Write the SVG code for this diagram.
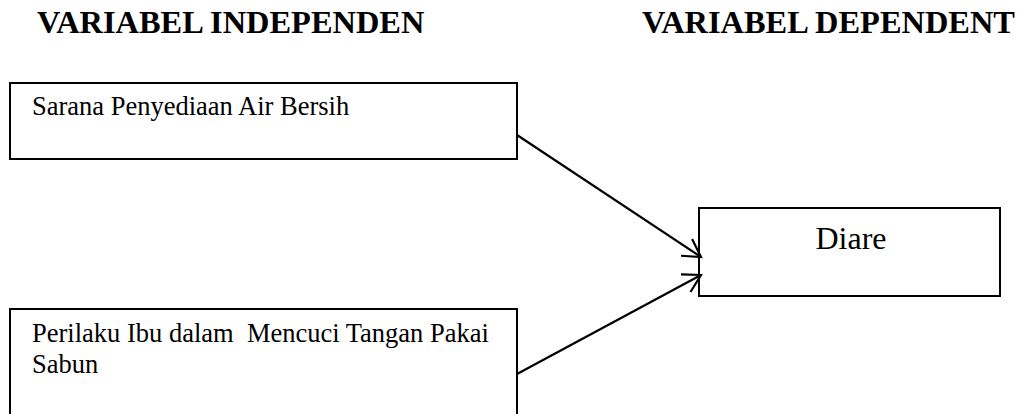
<svg xmlns="http://www.w3.org/2000/svg" width="1022" height="414" viewBox="0 0 1022 414">
<style>
.box{fill:#fff;stroke:#000;stroke-width:2}
.hd{font-family:"Liberation Serif","Times New Roman",serif;font-weight:bold;font-size:32.4px;fill:#000}
.dn{font-family:"Liberation Serif","Times New Roman",serif;font-size:32px;fill:#000}
.t{font-family:"Liberation Serif","Times New Roman",serif;font-size:26.5px;fill:#000;white-space:pre}
.conn{fill:none;stroke:#000;stroke-width:2.2}
</style>
<defs>
<marker id="arr" markerUnits="userSpaceOnUse" markerWidth="40" markerHeight="40" refX="0" refY="0" viewBox="-20 -20 40 40" orient="auto" overflow="visible">
<path d="M-17.3,-10 L0,0 L-17.3,10" fill="none" stroke="#000" stroke-width="2.2"/>
</marker>
</defs>
<rect width="1022" height="414" fill="#fff"/>
<text class="hd" x="37" y="33">VARIABEL INDEPENDEN</text>
<text class="hd" x="642" y="33">VARIABEL DEPENDENT</text>
<g id="n1">
<rect class="box" x="10" y="83" width="507" height="76"/>
<text class="t" x="32" y="115">Sarana Penyediaan Air Bersih</text>
</g>
<g id="n2">
<rect class="box" x="10" y="309" width="507" height="120"/>
<text class="t" x="32" y="342" xml:space="preserve">Perilaku Ibu dalam  Mencuci Tangan Pakai</text>
<text class="t" x="32" y="373">Sabun</text>
</g>
<g id="n3">
<rect class="box" x="699" y="208" width="301" height="88"/>
<text class="dn" x="851" y="249" text-anchor="middle">Diare</text>
</g>
<g id="connectors">
<line class="conn" x1="517" y1="135" x2="701" y2="257" marker-end="url(#arr)"/>
<line class="conn" x1="517" y1="374" x2="701" y2="275" marker-end="url(#arr)"/>
</g>
</svg>
